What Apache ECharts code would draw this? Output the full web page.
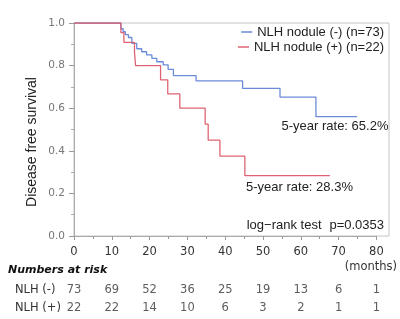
<!DOCTYPE html>
<html><head><meta charset="utf-8">
<script src="https://cdn.jsdelivr.net/npm/echarts@6/dist/echarts.min.js"></script>
<style>html,body{margin:0;padding:0;background:#fff}#c{width:400px;height:319px}</style>
</head><body><div id="c"></div>
<script>
// Kaplan-Meier curves (time in months, survival)
const nameNeg = 'NLH nodule (-) (n=73)';
const namePos = 'NLH nodule (+) (n=22)';
const timesNeg = [0, 12.4, 13.0, 13.6, 14.4, 15.3, 16.6, 17.9, 19.2, 20.6, 21.9, 23.6, 24.9, 26.3, 32.3, 44.6, 54.5, 64.0, 74.9];
const survNeg  = [1, 0.973, 0.959, 0.945, 0.932, 0.904, 0.879, 0.865, 0.850, 0.834, 0.818, 0.803, 0.782, 0.753, 0.728, 0.693, 0.652, 0.560, 0.560];
const timesPos = [0, 12.4, 13.2, 16.0, 16.3, 22.9, 24.8, 28.0, 34.7, 35.5, 38.6, 45.2, 67.7];
const survPos  = [1, 0.955, 0.909, 0.864, 0.800, 0.733, 0.667, 0.600, 0.525, 0.450, 0.375, 0.283, 0.283];
// Numbers at risk
const riskTimes = [0, 10, 20, 30, 40, 50, 60, 70, 80];
const riskRows = ['NLH (-)', 'NLH (+)'];
const riskNeg = [73, 69, 52, 36, 25, 19, 13, 6, 1];
const riskPos = [22, 22, 14, 10, 6, 3, 2, 1, 1];
const yTicks = [0, 0.2, 0.4, 0.6, 0.8, 1.0];

const colNeg = '#6b8bd9';
const colPos = '#de6474';
const zip = (a, b) => a.map((v, i) => [v, b[i]]);

const chart = echarts.init(document.getElementById('c'), null, {renderer: 'canvas'});
const arial = 'Liberation Sans, Arial, sans-serif';
const verd = 'DejaVu Sans, Verdana, sans-serif';

chart.setOption({
  animation: false,
  grid: [
    {left: 74, right: 23.6, top: 23, bottom: 83},
    {left: 74, right: 23.6, top: 281, height: 36}
  ],
  xAxis: [
    {type: 'value', gridIndex: 0, min: 0, max: 80, interval: 10,
     axisLine: {show: true, lineStyle: {color: '#aaa'}},
     axisTick: {show: true, length: 4, lineStyle: {color: '#999'}},
     minorTick: {show: true, splitNumber: 2, length: 3, lineStyle: {color: '#999'}},
     splitLine: {show: false},
     axisLabel: {fontFamily: verd, fontSize: 11.5, color: '#333', margin: 10}},
    {type: 'value', gridIndex: 1, min: 0, max: 80, show: false}
  ],
  yAxis: [
    {type: 'value', gridIndex: 0, min: 0, max: 1, interval: 0.2,
     axisLine: {show: true, lineStyle: {color: '#aaa'}},
     axisTick: {show: true, length: 5, lineStyle: {color: '#999'}},
     minorTick: {show: true, splitNumber: 2, length: 3, lineStyle: {color: '#aaa'}},
     splitLine: {show: false},
     axisLabel: {fontFamily: verd, fontSize: 10.5, color: '#777', margin: 9,
       formatter: v => yTicks.some(t => Math.abs(t - v) < 1e-6) ? v.toFixed(1) : ''}},
    {type: 'category', gridIndex: 1, data: riskRows, inverse: true,
     axisLine: {show: false}, axisTick: {show: false}, splitLine: {show: false},
     axisLabel: {fontFamily: verd, fontSize: 11.5, color: '#333', align: 'left', margin: 59}}
  ],
  legend: [
    {data: [nameNeg], right: 16, top: 25, orient: 'vertical', padding: 0,
     icon: 'rect', itemWidth: 11, itemHeight: 1.5,
     textStyle: {fontFamily: arial, fontSize: 13, color: '#222', lineHeight: 14}},
    {data: [namePos], right: 16, top: 40, orient: 'vertical', padding: 0,
     icon: 'rect', itemWidth: 11, itemHeight: 1.5,
     textStyle: {fontFamily: arial, fontSize: 13, color: '#222', lineHeight: 14}}
  ],
  series: [
    {name: nameNeg, type: 'line', step: 'end', xAxisIndex: 0, yAxisIndex: 0,
     data: zip(timesNeg, survNeg), showSymbol: false, symbol: 'none',
     itemStyle: {color: colNeg}, lineStyle: {color: colNeg, width: 1.3}},
    {name: namePos, type: 'line', step: 'end', xAxisIndex: 0, yAxisIndex: 0,
     data: zip(timesPos, survPos), showSymbol: false, symbol: 'none',
     itemStyle: {color: colPos}, lineStyle: {color: colPos, width: 1.3}},
    {type: 'scatter', xAxisIndex: 1, yAxisIndex: 1, symbolSize: 0, silent: true,
     data: riskTimes.map((t, i) => [t, riskRows[0], riskNeg[i]]),
     label: {show: true, position: 'inside', formatter: p => String(p.value[2]),
       fontFamily: verd, fontSize: 11.5, color: '#333'}},
    {type: 'scatter', xAxisIndex: 1, yAxisIndex: 1, symbolSize: 0, silent: true,
     data: riskTimes.map((t, i) => [t, riskRows[1], riskPos[i]]),
     label: {show: true, position: 'inside', formatter: p => String(p.value[2]),
       fontFamily: verd, fontSize: 11.5, color: '#333'}}
  ],
  graphic: [
    {type: 'rect', silent: true, z: -1, shape: {x: 74, y: 23, width: 315, height: 213},
     style: {fill: 'none', stroke: '#c4c4c4', lineWidth: 1}},
    {type: 'text', x: 32, y: 142, rotation: Math.PI / 2,
     style: {text: 'Disease free survival', font: '14px ' + arial, fill: '#222',
       textAlign: 'center', textVerticalAlign: 'middle'}},
    {type: 'text', x: 281.5, y: 126.7,
     style: {text: '5-year rate: 65.2%', font: '13px ' + arial, fill: '#222', textVerticalAlign: 'middle'}},
    {type: 'text', x: 246, y: 187.3,
     style: {text: '5-year rate: 28.3%', font: '13px ' + arial, fill: '#222', textVerticalAlign: 'middle'}},
    {type: 'text', x: 246.7, y: 225.7,
     style: {text: 'log\u2212rank test', font: '13px ' + arial, fill: '#222', textVerticalAlign: 'middle'}},
    {type: 'text', x: 384, y: 225.7,
     style: {text: 'p=0.0353', font: '13px ' + arial, fill: '#222', textAlign: 'right', textVerticalAlign: 'middle'}},
    {type: 'text', x: 397, y: 267,
     style: {text: '(months)', font: '11.5px ' + verd, fill: '#333', textAlign: 'right', textVerticalAlign: 'middle'}},
    {type: 'text', x: 8, y: 270,
     style: {text: 'Numbers at risk', font: 'italic bold 11px ' + verd, fill: '#111', textVerticalAlign: 'middle'}}
  ]
});
</script></body></html>
